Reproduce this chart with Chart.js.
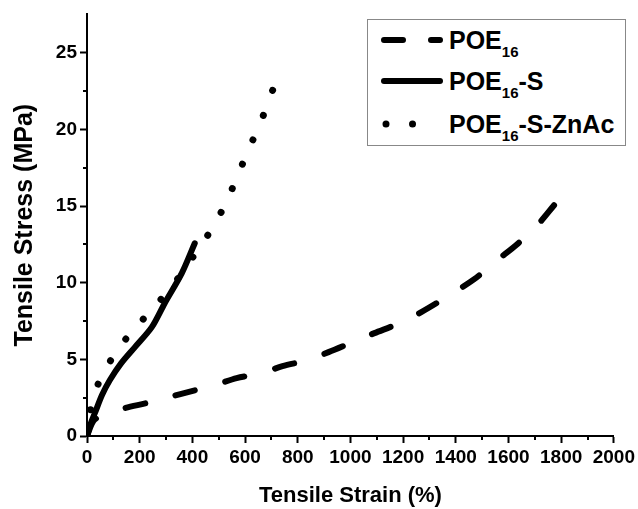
<!DOCTYPE html>
<html>
<head>
<meta charset="utf-8">
<script src="https://cdn.jsdelivr.net/npm/chart.js@4/dist/chart.umd.min.js"></script>
<style>
  html, body { margin: 0; padding: 0; background: #fff; }
  #wrap { position: relative; width: 638px; height: 509px; }
  #legend {
    position: absolute; left: 367px; top: 19px; width: 257px; height: 125px;
    border: 1px solid #888; background: #fff;
    font-family: 'Liberation Sans', Arial, sans-serif; font-weight: bold; color: #000;
  }
  .row { position: absolute; left: 0; height: 30px; width: 100%; }
  .row svg { position: absolute; left: 12px; top: 0; }
  .row .lbl { position: absolute; left: 81px; top: 0; font-size: 25px; line-height: 30px; white-space: nowrap; }
  .row .lbl sub { font-size: 15px; vertical-align: baseline; position: relative; top: 8px; }
</style>
</head>
<body>
<div id="wrap">
  <canvas id="c" width="638" height="509"></canvas>
  <div id="legend">
    <div class="row" style="top:5px">
      <svg width="66" height="30"><line x1="4" y1="15" x2="60" y2="15" stroke="#000" stroke-width="6" stroke-linecap="round" stroke-dasharray="19 28"/></svg>
      <div class="lbl">POE<sub>16</sub></div>
    </div>
    <div class="row" style="top:46px">
      <svg width="66" height="30"><line x1="4" y1="15" x2="60" y2="15" stroke="#000" stroke-width="6" stroke-linecap="round"/></svg>
      <div class="lbl">POE<sub>16</sub>-S</div>
    </div>
    <div class="row" style="top:89px">
      <svg width="66" height="30"><line x1="6" y1="15" x2="59" y2="15" stroke="#000" stroke-width="7" stroke-linecap="round" stroke-dasharray="0.01 26.5"/></svg>
      <div class="lbl">POE<sub>16</sub>-S-ZnAc</div>
    </div>
  </div>
</div>
<script>
// ---- Data ----
const seriesNames = ['POE16', 'POE16-S', 'POE16-S-ZnAc'];

const strainPOE16 = [0, 25, 60, 144, 227, 311, 398, 485, 568, 663, 742, 837, 917, 1008, 1091, 1186, 1269, 1364, 1470, 1557, 1633, 1716, 1773];
const stressPOE16 = [0, 1.0, 1.35, 1.82, 2.15, 2.54, 2.93, 3.32, 3.78, 4.10, 4.56, 4.95, 5.47, 6.12, 6.71, 7.36, 8.08, 9.06, 10.23, 11.47, 12.51, 13.88, 15.05];

const strainPOE16S = [0, 15, 30, 57, 87, 130, 182, 246, 295, 360, 409];
const stressPOE16S = [0, 0.85, 1.50, 2.67, 3.65, 4.75, 5.80, 7.10, 8.66, 10.62, 12.57];

const strainZnAc = [0, 19, 49, 98, 159, 227, 295, 360, 417, 477, 530, 572, 614, 659, 708];
const stressZnAc = [0, 2.21, 3.65, 5.15, 6.58, 7.88, 9.19, 10.62, 12.05, 13.6, 15.3, 17.0, 18.7, 20.46, 22.7];

const xTicksMajor = [0, 200, 400, 600, 800, 1000, 1200, 1400, 1600, 1800, 2000];
const yTicksMajor = [0, 5, 10, 15, 20, 25];

function toPoints(xs, ys) { return xs.map((x, i) => ({ x: x, y: ys[i] })); }

const FONT = "'Liberation Sans', Arial, sans-serif";

const minorTicks = {
  id: 'minorTicks',
  afterDraw(chart) {
    const ctx = chart.ctx;
    const xs = chart.scales.x, ys = chart.scales.y;
    const ca = chart.chartArea;
    ctx.save();
    ctx.strokeStyle = '#000';
    ctx.lineWidth = 2;
    ctx.setLineDash([]);
    ctx.beginPath();
    for (let i = 0; i < xTicksMajor.length - 1; i++) {
      const v = (xTicksMajor[i] + xTicksMajor[i + 1]) / 2;
      const px = Math.round(xs.getPixelForValue(v));
      ctx.moveTo(px, ca.bottom);
      ctx.lineTo(px, ca.bottom + 4);
    }
    for (let i = 0; i < yTicksMajor.length - 1; i++) {
      const v = (yTicksMajor[i] + yTicksMajor[i + 1]) / 2;
      const py = Math.round(ys.getPixelForValue(v));
      ctx.moveTo(ca.left, py);
      ctx.lineTo(ca.left - 4, py);
    }
    ctx.stroke();
    ctx.restore();
  }
};

new Chart(document.getElementById('c'), {
  type: 'line',
  data: {
    datasets: [
      {
        label: seriesNames[0],
        data: toPoints(strainPOE16, stressPOE16),
        borderColor: '#000', borderWidth: 6, borderDash: [20, 31.5], borderCapStyle: 'round',
        pointRadius: 0, tension: 0.3, fill: false
      },
      {
        label: seriesNames[1],
        data: toPoints(strainPOE16S, stressPOE16S),
        borderColor: '#000', borderWidth: 6, borderCapStyle: 'round',
        pointRadius: 0, tension: 0.3, fill: false
      },
      {
        label: seriesNames[2],
        data: toPoints(strainZnAc, stressZnAc),
        borderColor: '#000', borderWidth: 7, borderDash: [0.01, 26.5], borderCapStyle: 'round',
        pointRadius: 0, tension: 0.3, fill: false
      }
    ]
  },
  options: {
    responsive: false,
    animation: false,
    layout: { padding: { top: 14, right: 23, left: 0, bottom: 0 } },
    plugins: { legend: { display: false }, tooltip: { enabled: false } },
    scales: {
      x: {
        type: 'linear', min: 0, max: 2000,
        afterFit(s) { s.height = 73; },
        grid: { drawOnChartArea: false, tickLength: 7, tickWidth: 2, tickColor: '#000' },
        border: { color: '#000', width: 2 },
        ticks: {
          stepSize: 200, padding: 3, color: '#000', maxRotation: 0, autoSkip: false,
          font: { family: FONT, size: 19, weight: 'bold' },
          callback: (v) => String(v)
        },
        title: {
          display: true, text: 'Tensile Strain (%)', color: '#000',
          font: { family: FONT, size: 22, weight: 'bold' }, padding: { top: 0, bottom: 0 }
        }
      },
      y: {
        type: 'linear', min: 0, max: 27.5,
        afterFit(s) { s.width = 87; },
        grid: { drawOnChartArea: false, tickLength: 7, tickWidth: 2, tickColor: '#000' },
        border: { color: '#000', width: 2 },
        ticks: {
          stepSize: 5, includeBounds: false, padding: 3, color: '#000',
          font: { family: FONT, size: 19, weight: 'bold' },
          callback: (v) => String(v)
        },
        title: {
          display: true, text: 'Tensile Stress (MPa)', color: '#000',
          font: { family: FONT, size: 25, weight: 'bold' }, padding: { top: 10, bottom: 0 }
        }
      }
    }
  },
  plugins: [minorTicks]
});
</script>
</body>
</html>
